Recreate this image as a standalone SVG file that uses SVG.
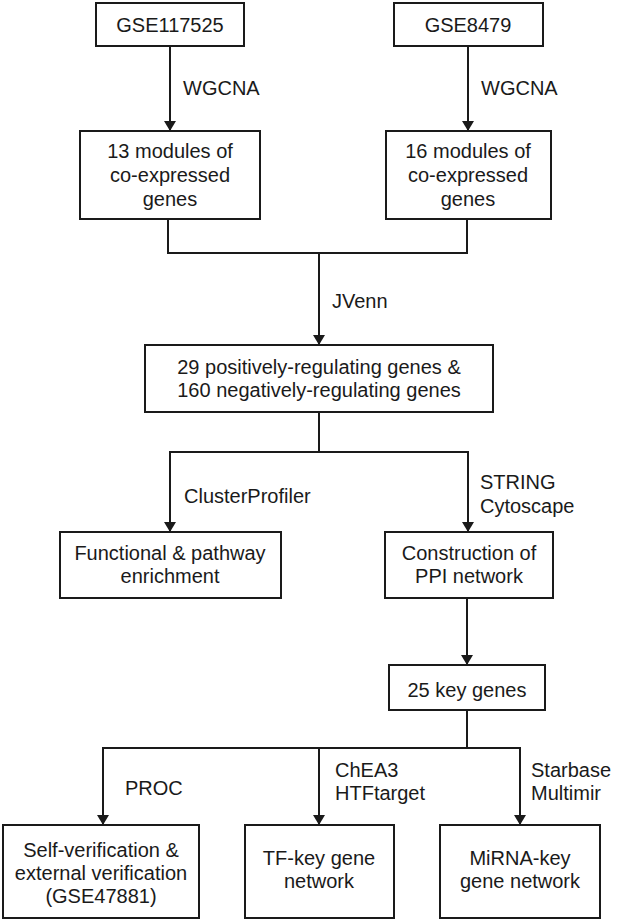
<svg xmlns="http://www.w3.org/2000/svg" width="626" height="922" viewBox="0 0 626 922">
<style>
.box{fill:#fff;stroke:#1a1a1a;stroke-width:2}
.ln{fill:none;stroke:#1a1a1a;stroke-width:2}
text{font-family:"Liberation Sans",Arial,sans-serif;font-size:20px;fill:#1a1a1a}
.c{text-anchor:middle}
</style>
<defs>
<marker id="ah" viewBox="0 0 10 12" refX="10" refY="6" markerWidth="10" markerHeight="12" markerUnits="userSpaceOnUse" orient="auto">
<path d="M0,0 L10,6 L0,12 Z" fill="#1a1a1a"/>
</marker>
</defs>
<g id="connectors">
<line class="ln" x1="170" y1="46" x2="170" y2="131" marker-end="url(#ah)"/>
<line class="ln" x1="468" y1="46" x2="468" y2="131" marker-end="url(#ah)"/>
<polyline class="ln" points="168,219 168,253 467,253 467,219"/>
<line class="ln" x1="319" y1="253" x2="319" y2="345" marker-end="url(#ah)"/>
<line class="ln" x1="319" y1="412" x2="319" y2="452"/>
<line class="ln" x1="169" y1="452" x2="469" y2="452"/>
<line class="ln" x1="170" y1="452" x2="170" y2="532" marker-end="url(#ah)"/>
<line class="ln" x1="468" y1="452" x2="468" y2="532" marker-end="url(#ah)"/>
<line class="ln" x1="467" y1="598" x2="467" y2="665" marker-end="url(#ah)"/>
<line class="ln" x1="467" y1="710" x2="467" y2="748"/>
<line class="ln" x1="102" y1="748" x2="521" y2="748"/>
<line class="ln" x1="103" y1="748" x2="103" y2="825" marker-end="url(#ah)"/>
<line class="ln" x1="319" y1="748" x2="319" y2="825" marker-end="url(#ah)"/>
<line class="ln" x1="520" y1="748" x2="520" y2="825" marker-end="url(#ah)"/>
<text x="183" y="95">WGCNA</text>
<text x="481" y="95">WGCNA</text>
<text x="332" y="308">JVenn</text>
<text x="184" y="503">ClusterProfiler</text>
<text x="480" y="489">STRING</text>
<text x="480" y="513">Cytoscape</text>
<text x="125" y="795">PROC</text>
<text x="335" y="777">ChEA3</text>
<text x="335" y="800">HTFtarget</text>
<text x="531" y="777">Starbase</text>
<text x="531" y="800">Multimir</text>
</g>
<g id="n1"><rect class="box" x="96" y="3" width="148" height="43"/><text class="c" x="170" y="32">GSE117525</text></g>
<g id="n2"><rect class="box" x="394" y="3" width="149" height="43"/><text class="c" x="468" y="32">GSE8479</text></g>
<g id="n3"><rect class="box" x="80" y="131" width="180" height="88"/><text class="c" x="170" y="158">13 modules of</text><text class="c" x="170" y="182">co-expressed</text><text class="c" x="170" y="206">genes</text></g>
<g id="n4"><rect class="box" x="386" y="131" width="165" height="88"/><text class="c" x="468" y="158">16 modules of</text><text class="c" x="468" y="182">co-expressed</text><text class="c" x="468" y="206">genes</text></g>
<g id="n5"><rect class="box" x="145" y="345" width="348" height="67"/><text class="c" x="319" y="374">29 positively-regulating genes &amp;</text><text class="c" x="319" y="397">160 negatively-regulating genes</text></g>
<g id="n6"><rect class="box" x="60" y="532" width="221" height="66"/><text class="c" x="170" y="560">Functional &amp; pathway</text><text class="c" x="170" y="583">enrichment</text></g>
<g id="n7"><rect class="box" x="385" y="532" width="168" height="66"/><text class="c" x="469" y="560">Construction of</text><text class="c" x="469" y="583">PPI network</text></g>
<g id="n8"><rect class="box" x="389" y="665" width="156" height="45"/><text class="c" x="467" y="697">25 key genes</text></g>
<g id="n9"><rect class="box" x="3" y="825" width="196" height="93"/><text class="c" x="101" y="857">Self-verification &amp;</text><text class="c" x="101" y="880">external verification</text><text class="c" x="101" y="903">(GSE47881)</text></g>
<g id="n10"><rect class="box" x="245" y="825" width="149" height="93"/><text class="c" x="319" y="865">TF-key gene</text><text class="c" x="319" y="888">network</text></g>
<g id="n11"><rect class="box" x="440" y="825" width="160" height="93"/><text class="c" x="520" y="865">MiRNA-key</text><text class="c" x="520" y="888">gene network</text></g>
</svg>
